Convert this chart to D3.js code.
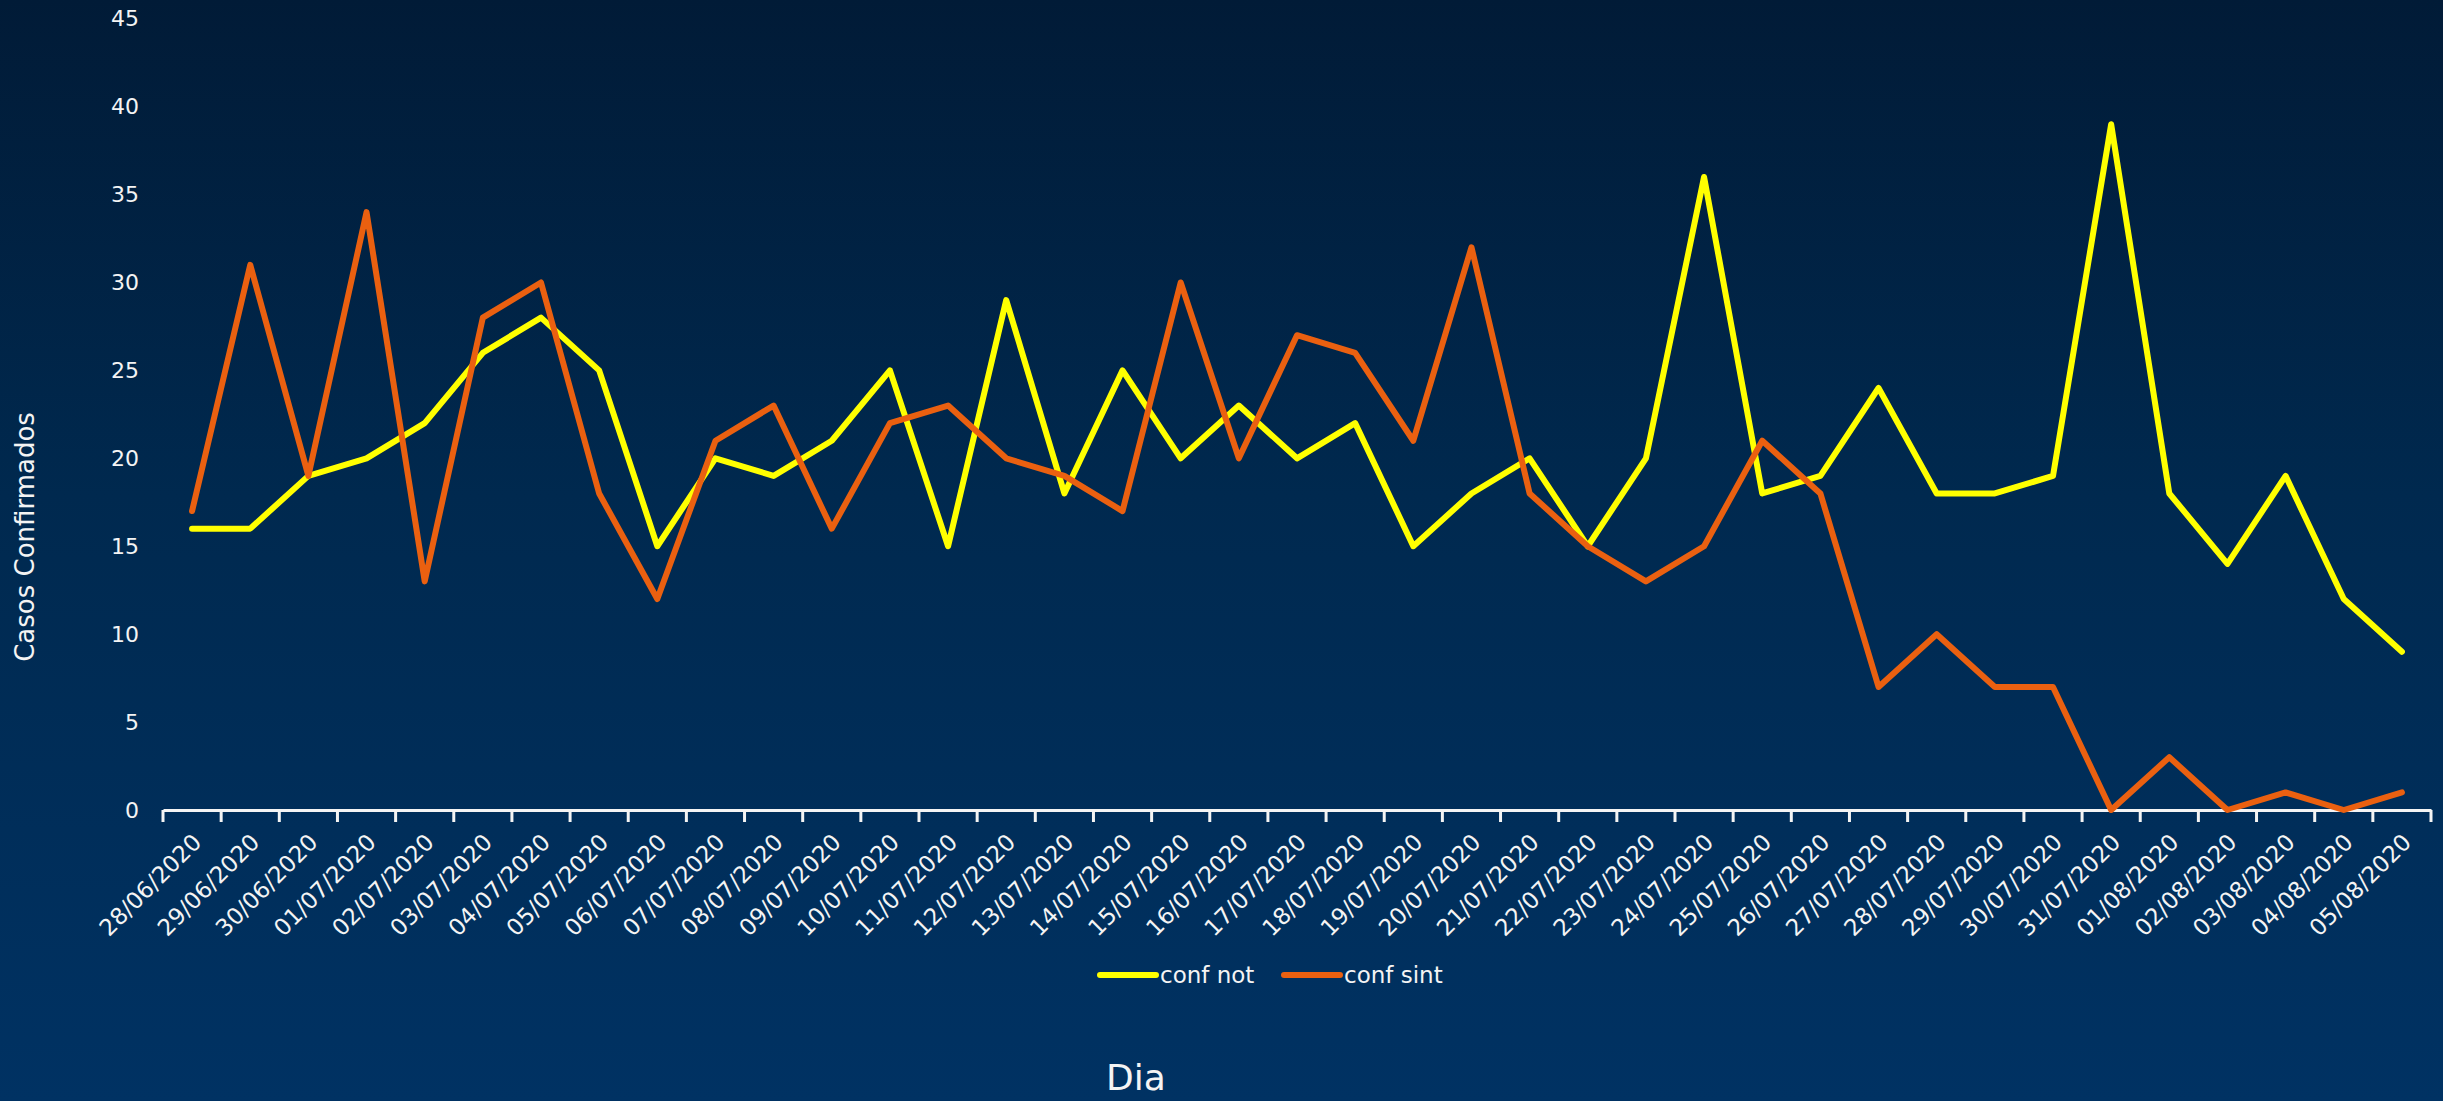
<!DOCTYPE html>
<html>
<head>
<meta charset="utf-8">
<script src="https://cdn.jsdelivr.net/npm/d3@7"></script>
<style>
  html, body { margin: 0; padding: 0; background: #00284f; }
  svg { display: block; }
  text { font-family: "DejaVu Sans", sans-serif; fill: #f4f4f4; }
</style>
</head>
<body>
<svg id="chart" width="2443" height="1101"></svg>
<script>
// Daily confirmed cases, 28/06/2020 - 05/08/2020.
var days = [
  '28/06/2020', '29/06/2020', '30/06/2020', '01/07/2020', '02/07/2020',
  '03/07/2020', '04/07/2020', '05/07/2020', '06/07/2020', '07/07/2020',
  '08/07/2020', '09/07/2020', '10/07/2020', '11/07/2020', '12/07/2020',
  '13/07/2020', '14/07/2020', '15/07/2020', '16/07/2020', '17/07/2020',
  '18/07/2020', '19/07/2020', '20/07/2020', '21/07/2020', '22/07/2020',
  '23/07/2020', '24/07/2020', '25/07/2020', '26/07/2020', '27/07/2020',
  '28/07/2020', '29/07/2020', '30/07/2020', '31/07/2020', '01/08/2020',
  '02/08/2020', '03/08/2020', '04/08/2020', '05/08/2020'
];
var confNot = [
  16, 16, 19, 20, 22, 26, 28, 25, 15, 20,
  19, 21, 25, 15, 29, 18, 25, 20, 23, 20,
  22, 15, 18, 20, 15, 20, 36, 18, 19, 24,
  18, 18, 19, 39, 18, 14, 19, 12, 9
];
var confSint = [
  17, 31, 19, 34, 13, 28, 30, 18, 12, 21,
  23, 16, 22, 23, 20, 19, 17, 30, 20, 27,
  26, 21, 32, 18, 15, 13, 15, 21, 18, 7,
  10, 7, 7, 0, 3, 0, 1, 0, 1
];
var seriesNames = ['conf not', 'conf sint'];
var seriesColors = ['#ffff00', '#ea6010'];
var yTicks = [0, 5, 10, 15, 20, 25, 30, 35, 40, 45];

var svg = d3.select('#chart');
var width = +svg.attr('width');
var height = +svg.attr('height');

// Background gradient, dark navy at the top to a lighter blue at the bottom.
var defs = svg.append('defs');
var grad = defs.append('linearGradient')
  .attr('id', 'bg')
  .attr('x1', 0).attr('y1', 0).attr('x2', 0).attr('y2', 1);
grad.append('stop').attr('offset', '0%').attr('stop-color', '#011b37');
grad.append('stop').attr('offset', '45%').attr('stop-color', '#00294f');
grad.append('stop').attr('offset', '100%').attr('stop-color', '#003263');
svg.append('rect')
  .attr('width', width)
  .attr('height', height)
  .attr('fill', 'url(#bg)');

var x = d3.scaleBand()
  .domain(days)
  .range([163, 2431]);

var y = d3.scaleLinear()
  .domain([0, 45])
  .range([810, 18.7]);

// Y axis: labels only, no line.
var yAxis = svg.append('g')
  .attr('transform', 'translate(150,0)')
  .call(d3.axisLeft(y).tickValues(yTicks).tickSize(0).tickPadding(11));
yAxis.select('.domain').remove();
yAxis.selectAll('text')
  .attr('font-size', 22)
  .attr('font-family', '"DejaVu Sans", sans-serif')
  .attr('fill', '#f4f4f4');

// X axis: white baseline, ticks on the category boundaries, rotated labels.
var xAxis = svg.append('g')
  .attr('transform', 'translate(0,' + y(0) + ')')
  .call(d3.axisBottom(x).tickSize(0).tickPadding(0));
xAxis.select('.domain')
  .attr('stroke', '#f4f4f4')
  .attr('stroke-width', 3);
xAxis.selectAll('.tick text')
  .attr('font-size', 23)
  .attr('font-family', '"DejaVu Sans", sans-serif')
  .attr('fill', '#f4f4f4')
  .attr('text-anchor', 'end')
  .attr('dy', '0.35em')
  .attr('y', 0)
  .attr('transform', 'translate(5,28) rotate(-45)');

var boundaries = days.map(function(d) { return x(d); }).concat([x.range()[1]]);
xAxis.selectAll('.boundary')
  .data(boundaries)
  .enter().append('line')
    .attr('class', 'boundary')
    .attr('x1', function(d) { return d; })
    .attr('x2', function(d) { return d; })
    .attr('y1', 0)
    .attr('y2', 12)
    .attr('stroke', '#f4f4f4')
    .attr('stroke-width', 3);

// Lines.
var line = d3.line()
  .x(function(d, i) { return x(days[i]) + x.bandwidth() / 2; })
  .y(function(d) { return y(d); });

[confNot, confSint].forEach(function(values, i) {
  svg.append('path')
    .datum(values)
    .attr('fill', 'none')
    .attr('stroke', seriesColors[i])
    .attr('stroke-width', 6)
    .attr('stroke-linejoin', 'round')
    .attr('stroke-linecap', 'round')
    .attr('d', line);
});

// Axis titles.
svg.append('text')
  .attr('transform', 'translate(34,537) rotate(-90)')
  .attr('text-anchor', 'middle')
  .attr('font-size', 26)
  .text('Casos Confirmados');

svg.append('text')
  .attr('x', 1136)
  .attr('y', 1090)
  .attr('text-anchor', 'middle')
  .attr('font-size', 36)
  .text('Dia');

// Legend.
var legendX = [1100, 1284];
var legend = svg.append('g')
  .selectAll('g')
  .data(seriesNames)
  .enter().append('g')
    .attr('transform', function(d, i) { return 'translate(' + legendX[i] + ',975)'; });
legend.append('line')
  .attr('x1', 0)
  .attr('x2', 56)
  .attr('stroke', function(d, i) { return seriesColors[i]; })
  .attr('stroke-width', 6)
  .attr('stroke-linecap', 'round');
legend.append('text')
  .attr('x', 60)
  .attr('y', 8)
  .attr('font-size', 23)
  .text(function(d) { return d; });
</script>
</body>
</html>
